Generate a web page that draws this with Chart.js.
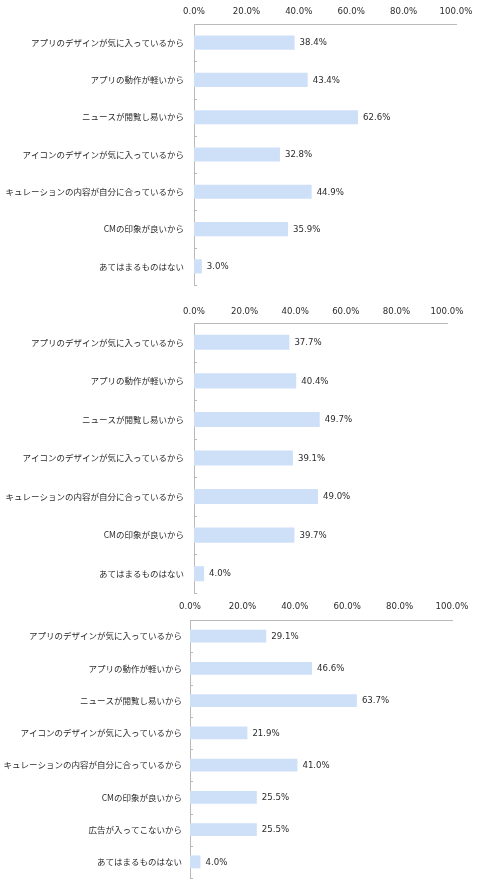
<!DOCTYPE html>
<html lang="ja">
<head>
<meta charset="utf-8">
<title>アプリの利用理由</title>
<script src="https://cdn.jsdelivr.net/npm/chart.js@4/dist/chart.umd.min.js"></script>
<style>
  html, body { margin: 0; padding: 0; background: #fff; }
  body { width: 500px; height: 880px; position: relative; overflow: hidden; }
  canvas { position: absolute; left: 0; }
</style>
</head>
<body>
<canvas id="chart1" width="500" height="290" style="top:0"></canvas>
<canvas id="chart2" width="500" height="300" style="top:295px"></canvas>
<canvas id="chart3" width="500" height="290" style="top:590px"></canvas>
<script>
// ========== DATA ==========
const reasons = [
  'アプリのデザインが気に入っているから',
  'アプリの動作が軽いから',
  'ニュースが閲覧し易いから',
  'アイコンのデザインが気に入っているから',
  'キュレーションの内容が自分に合っているから',
  'CMの印象が良いから',
  'あてはまるものはない'
];
const reasons3 = [
  'アプリのデザインが気に入っているから',
  'アプリの動作が軽いから',
  'ニュースが閲覧し易いから',
  'アイコンのデザインが気に入っているから',
  'キュレーションの内容が自分に合っているから',
  'CMの印象が良いから',
  '広告が入ってこないから',
  'あてはまるものはない'
];
const values1 = [38.4, 43.4, 62.6, 32.8, 44.9, 35.9, 3.0];
const values2 = [37.7, 40.4, 49.7, 39.1, 49.0, 39.7, 4.0];
const values3 = [29.1, 46.6, 63.7, 21.9, 41.0, 25.5, 25.5, 4.0];
const xTicks = [0, 20, 40, 60, 80, 100];

const BAR_COLOR = '#cde0f8';
const AXIS_COLOR = '#b9b9b9';
const TEXT_COLOR = '#2b2b2b';
const LATIN_FONT = '"DejaVu Sans", Verdana, sans-serif';
const CJK_FONT = '"Noto Sans CJK JP", "Noto Sans", sans-serif';

// value labels at bar ends + small category ticks on the left axis
const barExtras = {
  id: 'barExtras',
  afterDatasetsDraw(chart) {
    const ctx = chart.ctx;
    const yScale = chart.scales.y;
    const meta = chart.getDatasetMeta(0);
    const data = chart.data.datasets[0].data;
    ctx.save();
    ctx.font = '8.6px ' + LATIN_FONT;
    ctx.fillStyle = TEXT_COLOR;
    ctx.textAlign = 'left';
    ctx.textBaseline = 'middle';
    meta.data.forEach((bar, i) => {
      ctx.fillText(data[i].toFixed(1) + '%', bar.x + 5, bar.y + 0.5);
    });
    ctx.strokeStyle = AXIS_COLOR;
    ctx.lineWidth = 1;
    const x0 = yScale.right;
    for (let i = 0; i < data.length; i++) {
      const y = Math.round(yScale.getPixelForValue(i + 0.5)) + 0.5;
      ctx.beginPath();
      ctx.moveTo(x0, y);
      ctx.lineTo(x0 + 3, y);
      ctx.stroke();
    }
    ctx.restore();
  }
};

function makeChart(id, labels, values, box) {
  const el = document.getElementById(id);
  return new Chart(el.getContext('2d'), {
    type: 'bar',
    data: {
      labels: labels,
      datasets: [{
        data: values,
        backgroundColor: BAR_COLOR,
        borderWidth: 0,
        barPercentage: box.bar,
        categoryPercentage: 1.0
      }]
    },
    options: {
      indexAxis: 'y',
      responsive: false,
      animation: false,
      layout: { padding: { left: 0, right: box.right, top: 0, bottom: box.bottom } },
      plugins: { legend: { display: false }, tooltip: { enabled: false } },
      scales: {
        x: {
          position: 'top',
          min: 0,
          max: 100,
          afterFit: s => { s.height = box.top; },
          afterBuildTicks: s => { s.ticks = xTicks.map(v => ({ value: v })); },
          grid: { display: false, drawTicks: false },
          border: { display: true, color: AXIS_COLOR, width: 1 },
          ticks: {
            padding: box.tickPad,
            maxRotation: 0,
            autoSkip: false,
            color: TEXT_COLOR,
            font: { family: LATIN_FONT, size: 8.6 },
            callback: v => Number(v).toFixed(1) + '%'
          }
        },
        y: {
          afterFit: s => {
            s.width = box.left;
            s.paddingTop = 0;
            s.paddingBottom = 0;
          },
          grid: { display: false, drawTicks: false },
          border: { display: true, color: AXIS_COLOR, width: 1 },
          ticks: {
            padding: box.labelPad,
            autoSkip: false,
            color: TEXT_COLOR,
            font: { family: CJK_FONT, size: 8.5 }
          }
        }
      }
    },
    plugins: [barExtras]
  });
}

makeChart('chart1', reasons, values1, { left: 194, right: 44, top: 24, bottom: 5, tickPad: 7, labelPad: 10, bar: 0.38 });
makeChart('chart2', reasons, values2, { left: 194, right: 53, top: 28, bottom: 2, tickPad: 6, labelPad: 10, bar: 0.39 });
makeChart('chart3', reasons3, values3, { left: 190, right: 48, top: 30, bottom: 2, tickPad: 8, labelPad: 8, bar: 0.4 });
</script>
</body>
</html>
